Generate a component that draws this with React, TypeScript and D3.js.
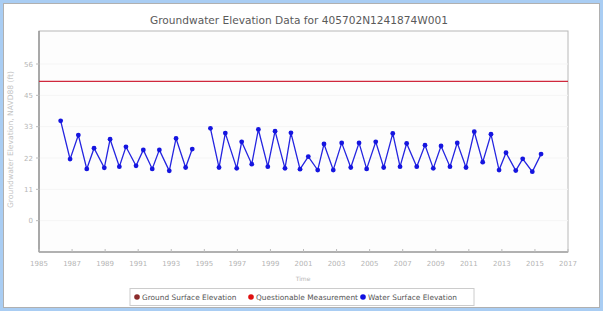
import React from "react";
import * as d3 from "d3";

// decimal years of each measurement (null value = no reading, line breaks)
const dates = [
  1986.31, 1986.88, 1987.38, 1987.89, 1988.33, 1988.95, 1989.3, 1989.86,
  1990.26, 1990.87, 1991.31, 1991.85, 1992.28, 1992.88, 1993.29, 1993.87,
  1994.27, 1994.85, 1995.37, 1995.89, 1996.27, 1996.96, 1997.26, 1997.87,
  1998.27, 1998.84, 1999.28, 1999.88, 2000.24, 2000.79, 2001.29, 2001.86,
  2002.24, 2002.8, 2003.31, 2003.86, 2004.36, 2004.82, 2005.37, 2005.85,
  2006.4, 2006.84, 2007.24, 2007.85, 2008.35, 2008.85, 2009.32, 2009.86,
  2010.3, 2010.83, 2011.33, 2011.84, 2012.34, 2012.83, 2013.25, 2013.84,
  2014.26, 2014.84, 2015.37,
];
const waterElev: (number | null)[] = [
  35.7, 22.0, 30.6, 18.5, 25.9, 18.9, 29.1, 19.3,
  26.4, 19.6, 25.3, 18.5, 25.3, 17.8, 29.4, 19.0,
  25.6, null, 33.0, 19.0, 31.3, 18.7, 28.2, 20.2,
  32.6, 19.3, 32.0, 18.7, 31.4, 18.4, 22.9, 18.1,
  27.4, 18.1, 27.8, 19.0, 27.8, 18.5, 28.2, 19.0,
  31.2, 19.3, 27.6, 19.3, 27.0, 18.7, 26.7, 19.3,
  27.8, 19.0, 31.8, 20.9, 30.9, 18.1, 24.3, 17.9,
  22.1, 17.5, 23.8,
];
const groundSurface = 49.8;

const yTickValues = [0, 11.2, 22.4, 33.6, 44.8, 56];
const yTickLabels = ["0", "11", "22", "33", "45", "56"];
const xTickYears = d3.range(1985, 2018, 2);

const legendItems = [
  { label: "Ground Surface Elevation", color: "#8b2b2b" },
  { label: "Questionable Measurement", color: "#e01010" },
  { label: "Water Surface Elevation", color: "#1010e0" },
];

const W = 603;
const H = 311;
const plot = { left: 39, right: 568, top: 31, bottom: 252 };
const font = "DejaVu Sans, Verdana, sans-serif";

export default function App() {
  const x = d3.scaleLinear().domain([1985, 2017]).range([plot.left, plot.right]);
  const y = d3.scaleLinear().domain([-11.2, 67.8]).range([plot.bottom, plot.top]);

  const pts = dates.map((d, i) => ({ t: d, v: waterElev[i] }));
  const lineGen = d3
    .line<{ t: number; v: number | null }>()
    .defined((d) => d.v !== null)
    .x((d) => x(d.t))
    .y((d) => y(d.v as number));

  const legendX = 130;
  const legendW = 344;
  const itemX = [137, 251, 363];

  return (
    <svg
      width={W}
      height={H}
      style={{ position: "absolute", left: 0, top: 0, fontFamily: font }}
    >
      <rect x={0} y={0} width={W} height={H} fill="#a9cdf3" />
      <rect x={3.5} y={3.5} width={596} height={304} fill="#fff" stroke="#b0b0b0" />

      <text x={299} y={24} textAnchor="middle" fontSize={10.6} fill="#5a5a5a">
        Groundwater Elevation Data for 405702N1241874W001
      </text>

      {/* plot frame */}
      <rect
        x={plot.left}
        y={plot.top}
        width={plot.right - plot.left}
        height={plot.bottom - plot.top}
        fill="#fdfdfd"
        stroke="#b8b8b8"
      />
      {yTickValues.map((v) => (
        <line
          key={"g" + v}
          x1={plot.left}
          x2={plot.right}
          y1={y(v)}
          y2={y(v)}
          stroke="#f5f5f5"
        />
      ))}
      <line x1={plot.left} x2={plot.left} y1={plot.top} y2={plot.bottom} stroke="#888" strokeWidth={1.2} />
      <line x1={plot.left} x2={plot.right} y1={plot.bottom} y2={plot.bottom} stroke="#888" strokeWidth={1.2} />

      {/* y axis */}
      {yTickValues.map((v, i) => (
        <g key={"y" + v}>
          <line x1={plot.left - 3} x2={plot.left} y1={y(v)} y2={y(v)} stroke="#bbb" />
          <text
            x={plot.left - 6}
            y={y(v) + 2.5}
            textAnchor="end"
            fontSize={7}
            fill="#b5b5b5"
          >
            {yTickLabels[i]}
          </text>
        </g>
      ))}
      <text
        transform={`translate(13, ${(plot.top + plot.bottom) / 2 - 2}) rotate(-90)`}
        textAnchor="middle"
        fontSize={7.6}
        fill="#c4c4c4"
      >
        Groundwater Elevation, NAVD88 (ft)
      </text>

      {/* x axis */}
      {xTickYears.map((yr) => (
        <g key={"x" + yr}>
          <line x1={x(yr)} x2={x(yr)} y1={plot.bottom - 3} y2={plot.bottom} stroke="#bbb" />
          <text x={x(yr)} y={266} textAnchor="middle" fontSize={7} fill="#b5b5b5">
            {yr}
          </text>
        </g>
      ))}
      <text x={303} y={281} textAnchor="middle" fontSize={6} fill="#b5b5b5">
        Time
      </text>

      {/* ground surface */}
      <line
        x1={plot.left}
        x2={plot.right}
        y1={y(groundSurface)}
        y2={y(groundSurface)}
        stroke="#d0283c"
        strokeWidth={1.3}
      />

      {/* water surface */}
      <path d={lineGen(pts) || ""} fill="none" stroke="#2424e0" strokeWidth={1.3} />
      {pts
        .filter((p) => p.v !== null)
        .map((p, i) => (
          <circle key={i} cx={x(p.t)} cy={y(p.v as number)} r={2.4} fill="#1515e0" />
        ))}

      {/* legend */}
      <rect x={legendX} y={288.5} width={legendW} height={17} fill="#fff" stroke="#ccc" />
      {legendItems.map((it, i) => (
        <g key={it.label}>
          <circle cx={itemX[i]} cy={297} r={2.8} fill={it.color} />
          <text x={itemX[i] + 5} y={299.5} fontSize={7.4} fill="#555">
            {it.label}
          </text>
        </g>
      ))}
    </svg>
  );
}
